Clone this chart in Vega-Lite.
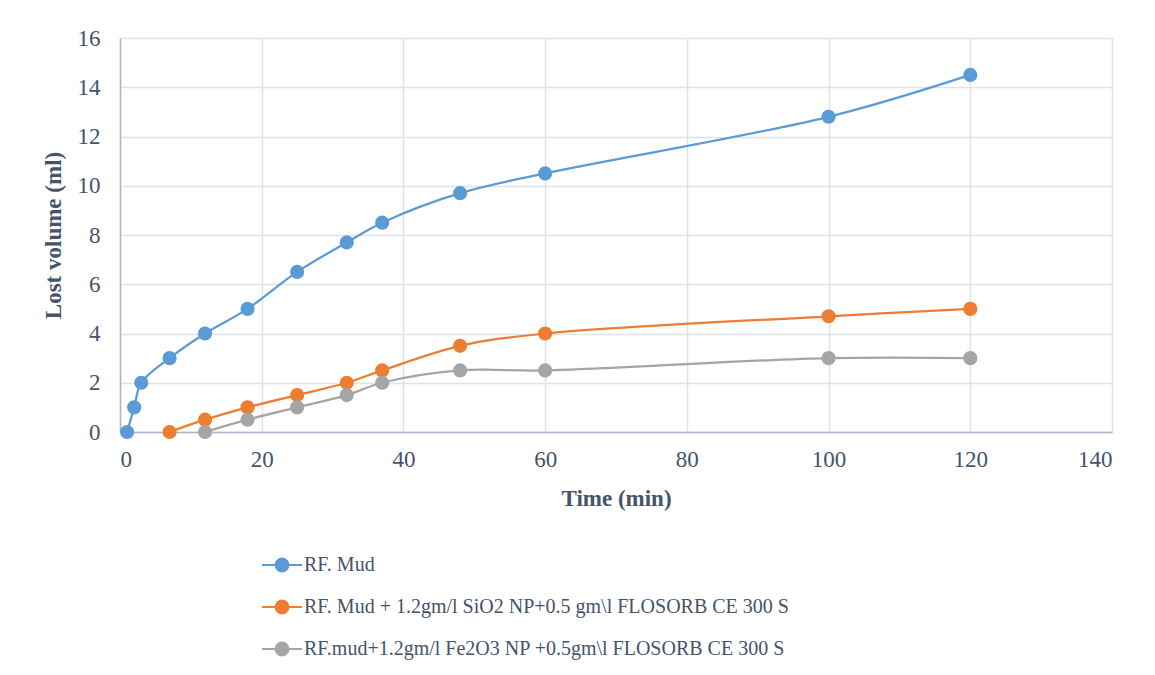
{
  "$schema": "https://vega.github.io/schema/vega-lite/v6.json",
  "autosize": "none",
  "width": 992,
  "height": 394,
  "padding": {"left": 120, "top": 38, "right": 43, "bottom": 243},
  "background": "white",
  "data": {
    "values": [
      {"series": "RF. Mud", "time": 1, "volume": 0},
      {"series": "RF. Mud", "time": 2, "volume": 1},
      {"series": "RF. Mud", "time": 3, "volume": 2},
      {"series": "RF. Mud", "time": 7, "volume": 3},
      {"series": "RF. Mud", "time": 12, "volume": 4},
      {"series": "RF. Mud", "time": 18, "volume": 5},
      {"series": "RF. Mud", "time": 25, "volume": 6.5},
      {"series": "RF. Mud", "time": 32, "volume": 7.7},
      {"series": "RF. Mud", "time": 37, "volume": 8.5},
      {"series": "RF. Mud", "time": 48, "volume": 9.7},
      {"series": "RF. Mud", "time": 60, "volume": 10.5},
      {"series": "RF. Mud", "time": 100, "volume": 12.8},
      {"series": "RF. Mud", "time": 120, "volume": 14.5},
      {"series": "RF. Mud + 1.2gm/l SiO2 NP+0.5 gm\\l FLOSORB CE 300 S", "time": 7, "volume": 0},
      {"series": "RF. Mud + 1.2gm/l SiO2 NP+0.5 gm\\l FLOSORB CE 300 S", "time": 12, "volume": 0.5},
      {"series": "RF. Mud + 1.2gm/l SiO2 NP+0.5 gm\\l FLOSORB CE 300 S", "time": 18, "volume": 1},
      {"series": "RF. Mud + 1.2gm/l SiO2 NP+0.5 gm\\l FLOSORB CE 300 S", "time": 25, "volume": 1.5},
      {"series": "RF. Mud + 1.2gm/l SiO2 NP+0.5 gm\\l FLOSORB CE 300 S", "time": 32, "volume": 2},
      {"series": "RF. Mud + 1.2gm/l SiO2 NP+0.5 gm\\l FLOSORB CE 300 S", "time": 37, "volume": 2.5},
      {"series": "RF. Mud + 1.2gm/l SiO2 NP+0.5 gm\\l FLOSORB CE 300 S", "time": 48, "volume": 3.5},
      {"series": "RF. Mud + 1.2gm/l SiO2 NP+0.5 gm\\l FLOSORB CE 300 S", "time": 60, "volume": 4},
      {"series": "RF. Mud + 1.2gm/l SiO2 NP+0.5 gm\\l FLOSORB CE 300 S", "time": 100, "volume": 4.7},
      {"series": "RF. Mud + 1.2gm/l SiO2 NP+0.5 gm\\l FLOSORB CE 300 S", "time": 120, "volume": 5},
      {"series": "RF.mud+1.2gm/l Fe2O3 NP +0.5gm\\l FLOSORB CE 300 S", "time": 12, "volume": 0},
      {"series": "RF.mud+1.2gm/l Fe2O3 NP +0.5gm\\l FLOSORB CE 300 S", "time": 18, "volume": 0.5},
      {"series": "RF.mud+1.2gm/l Fe2O3 NP +0.5gm\\l FLOSORB CE 300 S", "time": 25, "volume": 1},
      {"series": "RF.mud+1.2gm/l Fe2O3 NP +0.5gm\\l FLOSORB CE 300 S", "time": 32, "volume": 1.5},
      {"series": "RF.mud+1.2gm/l Fe2O3 NP +0.5gm\\l FLOSORB CE 300 S", "time": 37, "volume": 2},
      {"series": "RF.mud+1.2gm/l Fe2O3 NP +0.5gm\\l FLOSORB CE 300 S", "time": 48, "volume": 2.5},
      {"series": "RF.mud+1.2gm/l Fe2O3 NP +0.5gm\\l FLOSORB CE 300 S", "time": 60, "volume": 2.5},
      {"series": "RF.mud+1.2gm/l Fe2O3 NP +0.5gm\\l FLOSORB CE 300 S", "time": 100, "volume": 3},
      {"series": "RF.mud+1.2gm/l Fe2O3 NP +0.5gm\\l FLOSORB CE 300 S", "time": 120, "volume": 3}
    ]
  },
  "encoding": {
    "x": {
      "field": "time", "type": "quantitative",
      "scale": {"domain": [0, 140], "nice": false, "zero": false},
      "axis": {"title": "Time (min)", "values": [0, 20, 40, 60, 80, 100, 120, 140], "labelPadding": 16, "titlePadding": 16}
    },
    "y": {
      "field": "volume", "type": "quantitative",
      "scale": {"domain": [0, 16], "nice": false},
      "axis": {"title": "Lost volume (ml)", "values": [0, 2, 4, 6, 8, 10, 12, 14, 16], "labelPadding": 20, "titlePadding": 12}
    },
    "color": {
      "field": "series", "type": "nominal",
      "scale": {
        "domain": ["RF. Mud", "RF. Mud + 1.2gm/l SiO2 NP+0.5 gm\\l FLOSORB CE 300 S", "RF.mud+1.2gm/l Fe2O3 NP +0.5gm\\l FLOSORB CE 300 S"],
        "range": ["#5B9BD5", "#ED7D31", "#A5A5A5"]
      },
      "legend": {
        "title": null,
        "orient": "none",
        "legendX": 141,
        "legendY": 506,
        "direction": "vertical",
        "symbolType": "M-1,0L1,0M-0.32,0A0.32,0.32 0 1,0 0.32,0A0.32,0.32 0 1,0 -0.32,0Z",
        "symbolSize": 1600,
        "symbolStrokeWidth": 2,
        "rowPadding": 10,
        "labelOffset": 1,
        "encode": {
          "symbols": {"update": {"fill": {"scale": "color", "field": "value"}, "stroke": {"scale": "color", "field": "value"}, "opacity": {"value": 1}}}
        }
      }
    }
  },
  "layer": [
    {"mark": {"type": "line", "interpolate": "catmull-rom", "strokeWidth": 2.25}},
    {"mark": {"type": "point", "filled": true, "size": 200, "opacity": 1}}
  ],
  "config": {
    "font": "Liberation Serif",
    "view": {"stroke": null},
    "axis": {
      "labelFont": "Liberation Serif",
      "labelFontSize": 23,
      "labelColor": "#44546A",
      "titleFont": "Liberation Serif",
      "titleFontSize": 23,
      "titleFontWeight": "bold",
      "titleColor": "#44546A",
      "gridColor": "#DEE3EA",
      "gridWidth": 1.5,
      "gridOpacity": 1,
      "domainColor": "#A9B8D0",
      "domainWidth": 1.5,
      "ticks": false
    },
    "legend": {
      "labelFont": "Liberation Serif",
      "labelFontSize": 20,
      "labelColor": "#44546A",
      "labelLimit": 0
    }
  }
}
